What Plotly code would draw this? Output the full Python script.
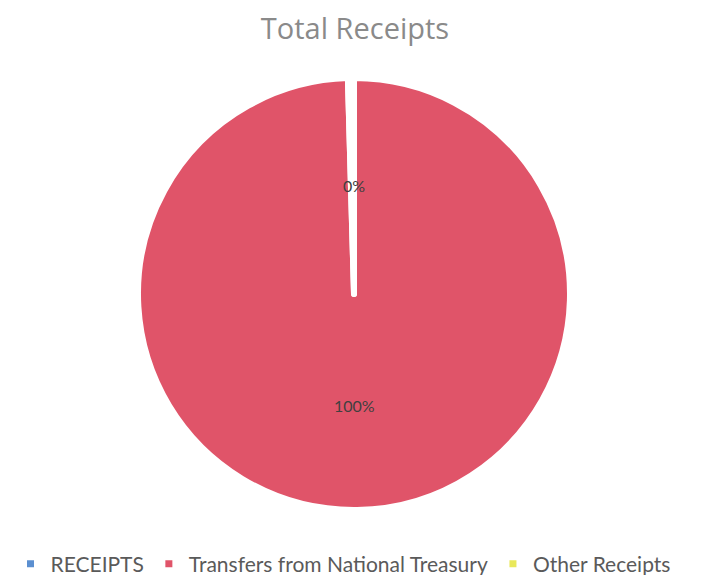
import plotly.graph_objects as go

categories = ["RECEIPTS", "Transfers from National Treasury", "Other Receipts"]
values = [0, 99.55, 0.45]
colors = ["#5B8FD0", "#E05469", "#E9E85A"]
label_positions = {"Transfers from National Treasury": 0.243, "Other Receipts": 0.752}

total = sum(values)
fig = go.Figure()
fig.add_trace(go.Pie(
    labels=categories,
    values=values,
    sort=False,
    direction="clockwise",
    rotation=0,
    domain=dict(x=[0, 1], y=[0, 1]),
    marker=dict(colors=colors, line=dict(color="white", width=6)),
    textinfo="none",
    hoverinfo="label+percent",
    showlegend=True,
))

for cat, v in zip(categories, values):
    if cat in label_positions:
        fig.add_annotation(
            x=0.5, y=label_positions[cat], xref="paper", yref="paper",
            xanchor="center", yanchor="middle",
            text=f"{round(100 * v / total):.0f}%", showarrow=False,
            font=dict(family="Lato", size=16, color="#404040"),
        )

# the page body adds an 8px offset, so the figure is sized to fit the window
fig.update_layout(
    width=700, height=567,
    margin=dict(l=0, r=8, t=70, b=65, autoexpand=False),
    paper_bgcolor="white", plot_bgcolor="white",
    title=dict(text="Total Receipts", x=0.4957, xanchor="center", y=1 - 21 / 567, yanchor="middle",
               font=dict(family="Open Sans", size=29, color="#8A8A8A")),
    legend=dict(orientation="h", x=0.4786, xanchor="center", xref="container",
                y=1 - 556 / 567, yanchor="middle", yref="container",
                font=dict(family="Lato", size=21, color="#5A5A5A"), itemwidth=30),
)

fig.write_html("out.html")
